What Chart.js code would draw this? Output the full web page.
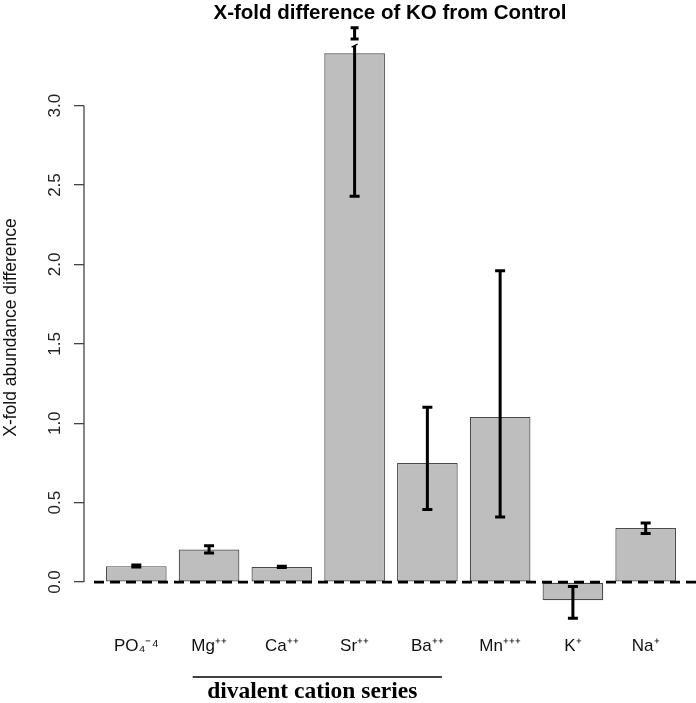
<!DOCTYPE html>
<html><head><meta charset="utf-8">
<script src="https://cdn.jsdelivr.net/npm/chart.js@4.4.1/dist/chart.umd.min.js"></script>
<style>html,body{margin:0;padding:0;background:#fff;overflow:hidden}canvas{display:block}</style>
</head><body>
<canvas id="c" width="696" height="703"></canvas>
<script>
// ---- data ----
const categories = ['PO\u2084\u207B\u2074', 'Mg\u207A\u207A', 'Ca\u207A\u207A', 'Sr\u207A\u207A', 'Ba\u207A\u207A', 'Mn\u207A\u207A\u207A', 'K\u207A', 'Na\u207A'];
const foldDifference = [0.100, 0.205, 0.095, 3.33, 0.750, 1.040, -0.115, 0.340];
const errorLower     = [0.095, 0.183, 0.091, 2.43, 0.457, 0.410, -0.228, 0.305];
const errorUpper     = [0.107, 0.229, 0.100, 3.49, 1.100, 1.960, -0.028, 0.372];
const yTickValues = [0, 0.5, 1.0, 1.5, 2.0, 2.5, 3.0];
const groupLabel = 'divalent cation series';
const groupFirst = 1, groupLast = 4;            // Mg .. Ba
const brokenBar = { index: 3, gapLow: 3.375, gapHigh: 3.42 };

// R barplot convention: bar width 1, space 0.2
const barPos = i => 0.7 + 1.2 * i;

const FONT = '"Liberation Sans", Arial, Helvetica, sans-serif';

const decorations = {
  id: 'decorations',
  afterDatasetsDraw(chart) {
    const { ctx, chartArea } = chart;
    const xs = chart.scales.x, ys = chart.scales.y;
    ctx.save();
    // dashed zero line
    const y0 = ys.getPixelForValue(0);
    ctx.strokeStyle = '#000';
    ctx.lineWidth = 2.8;
    ctx.setLineDash([10, 6]);
    ctx.beginPath();
    ctx.moveTo(chartArea.left + 10, y0);
    ctx.lineTo(chart.width, y0);
    ctx.stroke();
    ctx.setLineDash([]);
    // error bars
    ctx.lineWidth = 3;
    const cap = 5;
    foldDifference.forEach((v, i) => {
      const cx = xs.getPixelForValue(barPos(i));
      const yl = ys.getPixelForValue(errorLower[i]);
      const yu = ys.getPixelForValue(errorUpper[i]);
      ctx.beginPath();
      if (brokenBar.index === i) {
        const gl = ys.getPixelForValue(brokenBar.gapLow);
        const gh = ys.getPixelForValue(brokenBar.gapHigh);
        ctx.moveTo(cx, yl); ctx.lineTo(cx, gl);
        ctx.moveTo(cx, gh); ctx.lineTo(cx, yu);
        ctx.moveTo(cx - cap, yl); ctx.lineTo(cx + cap, yl);
        ctx.moveTo(cx - cap + 1, yu); ctx.lineTo(cx + cap - 1, yu);
        ctx.moveTo(cx - cap + 1, gh); ctx.lineTo(cx + cap - 1, gh);
        ctx.stroke();
        ctx.lineWidth = 1.5;
        ctx.beginPath();
        ctx.moveTo(cx - 3, gl + 1); ctx.lineTo(cx + 3, gl - 2);
        ctx.stroke();
        ctx.lineWidth = 3;
      } else {
        ctx.moveTo(cx, yl); ctx.lineTo(cx, yu);
        ctx.moveTo(cx - cap, yl); ctx.lineTo(cx + cap, yl);
        ctx.moveTo(cx - cap, yu); ctx.lineTo(cx + cap, yu);
        ctx.stroke();
      }
    });
    // y axis line spanning the ticks only (R style)
    ctx.strokeStyle = '#444';
    ctx.lineWidth = 1.3;
    ctx.beginPath();
    ctx.moveTo(chartArea.left, ys.getPixelForValue(yTickValues[0]));
    ctx.lineTo(chartArea.left, ys.getPixelForValue(yTickValues[yTickValues.length - 1]));
    ctx.stroke();
    ctx.restore();
  },
  afterDraw(chart) {
    const { ctx } = chart;
    const xs = chart.scales.x;
    const x1 = xs.getPixelForValue(barPos(groupFirst) - 0.27);
    const x2 = xs.getPixelForValue(barPos(groupLast) + 0.24);
    const yLine = xs.bottom + 14;
    ctx.save();
    ctx.strokeStyle = '#000';
    ctx.lineWidth = 1.6;
    ctx.beginPath();
    ctx.moveTo(x1, yLine); ctx.lineTo(x2, yLine);
    ctx.stroke();
    ctx.fillStyle = '#000';
    ctx.font = 'bold 23.5px "Liberation Serif", "Times New Roman", serif';
    ctx.textAlign = 'center';
    ctx.textBaseline = 'alphabetic';
    ctx.fillText(groupLabel, (x1 + x2) / 2 - 5, yLine + 21);
    ctx.restore();
  }
};

new Chart(document.getElementById('c'), {
  type: 'bar',
  data: {
    datasets: [{
      data: categories.map((c, i) => ({ x: barPos(i), y: foldDifference[i] })),
      backgroundColor: '#BEBEBE',
      borderColor: '#4a4a4a',
      borderWidth: 1.2,
      borderSkipped: false,
      categoryPercentage: 1,
      barPercentage: 1 / 1.2
    }]
  },
  options: {
    responsive: false,
    animation: false,
    devicePixelRatio: 1,
    layout: { padding: { left: 0, right: 0, top: 0, bottom: 40 } },
    plugins: {
      legend: { display: false },
      tooltip: { enabled: false },
      title: {
        display: true,
        text: 'X-fold difference of KO from Control',
        fullSize: false,
        color: '#000',
        font: { family: FONT, size: 20.5, weight: 'bold', lineHeight: 1.17 },
        padding: { top: 1, bottom: 0 }
      }
    },
    scales: {
      x: {
        type: 'linear',
        offset: false,
        min: -0.1625,
        max: 9.93,
        grid: { display: false, drawTicks: false, offset: false },
        border: { display: false },
        afterBuildTicks: s => { s.ticks = categories.map((c, i) => ({ value: barPos(i) })); },
        afterFit: s => { s.height = 33; },
        ticks: {
          autoSkip: false, maxRotation: 0, minRotation: 0, padding: 6,
          color: '#111', font: { family: FONT, size: 17 },
          callback: (v, i) => categories[i]
        }
      },
      y: {
        type: 'linear',
        min: -0.302,
        max: 3.508,
        afterBuildTicks: s => { s.ticks = yTickValues.map(v => ({ value: v })); },
        afterFit: s => { s.width = 84; },
        border: { display: false },
        grid: { drawOnChartArea: false, drawTicks: true, tickLength: 10, color: '#444', lineWidth: 1.3 },
        ticks: {
          minRotation: 90, maxRotation: 90, crossAlign: 'center', padding: 7,
          color: '#222', font: { family: FONT, size: 17 },
          callback: v => Number(v).toFixed(1)
        },
        title: {
          display: true, text: 'X-fold abundance difference',
          color: '#111', font: { family: FONT, size: 17.5 },
          padding: { top: 1, bottom: 0 }
        }
      }
    }
  },
  plugins: [decorations]
});
</script>
</body></html>
